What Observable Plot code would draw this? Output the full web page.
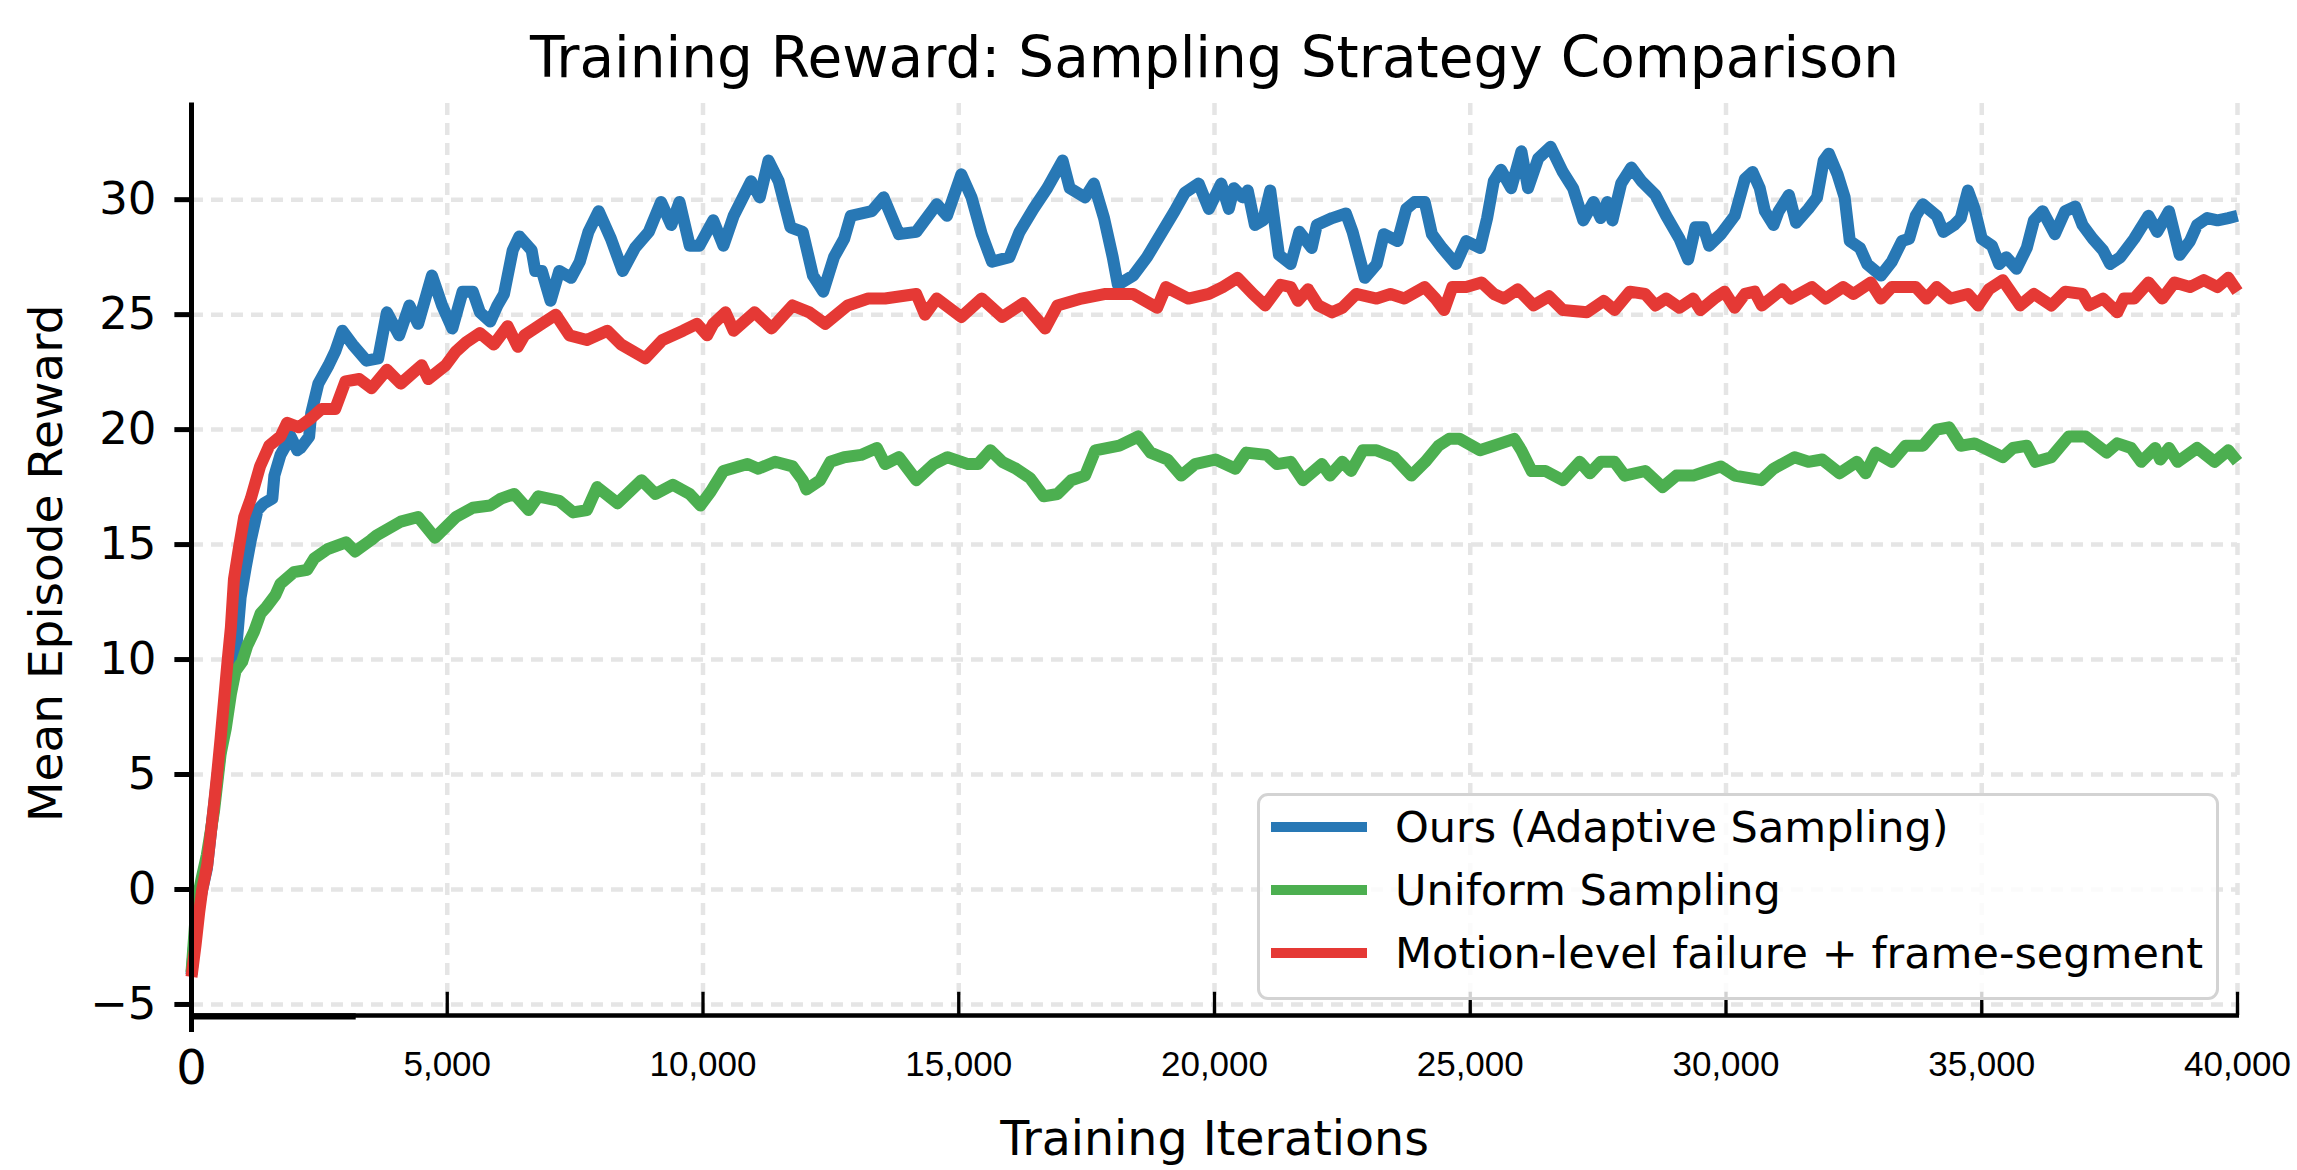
<!DOCTYPE html>
<html>
<head>
<meta charset="utf-8">
<script src="https://cdn.jsdelivr.net/npm/d3@7"></script>
<script src="https://cdn.jsdelivr.net/npm/@observablehq/plot@0.6"></script>
<style>
  html, body { margin: 0; padding: 0; background: #ffffff; }
  #chart { position: relative; width: 2297px; height: 1170px; overflow: hidden; background: #ffffff; }
  #chart svg { position: absolute; left: 0; top: 0; }
  .legend { position: absolute; left: 1257px; top: 793px; width: 956px; height: 201px;
            border: 3.5px solid #d3d3d3; border-radius: 11px; background: rgba(255,255,255,0.82);
            box-sizing: content-box; }
  .legend .row { position: absolute; left: 0; height: 50px; display: flex; align-items: center;
                 font-family: "DejaVu Sans", sans-serif; font-size: 43px; color: #000; white-space: nowrap; }
  .legend .sw { width: 96px; height: 9.5px; margin-left: 11px; margin-right: 28px; }
</style>
</head>
<body>
<div id="chart"></div>
<script>
// ---------------- data ----------------
const seriesNames = ["Ours (Adaptive Sampling)", "Uniform Sampling", "Motion-level failure + frame-segment"];
const seriesColors = ["#2878b5", "#4caf50", "#e53935"];

// [training iteration, mean episode reward]
const ours = [
  [0,-3.7],[100,-1.2],[200,-0.1],[300,0.9],[400,2.9],[500,4.8],[600,6.6],[700,8.4],[800,9.6],[860,10.1],
  [960,12.7],[1060,14.0],[1160,15.2],[1290,16.5],[1420,16.8],[1580,17.0],[1620,18.0],[1740,18.9],[1940,19.7],
  [2070,19.1],[2130,19.2],[2300,19.7],[2340,20.7],[2480,22.0],[2680,22.8],[2810,23.4],[2950,24.3],[3150,23.7],
  [3420,23.0],[3650,23.1],[3820,25.1],[4060,24.1],[4260,25.4],[4430,24.6],[4700,26.7],[4900,25.4],[5100,24.4],
  [5300,26.0],[5500,26.0],[5640,25.1],[5840,24.7],[5980,25.4],[6110,25.9],[6280,27.8],[6410,28.4],[6650,27.8],
  [6720,26.9],[6850,26.9],[7020,25.6],[7190,26.9],[7420,26.6],[7590,27.3],[7760,28.6],[7960,29.5],[8200,28.3],
  [8430,26.9],[8670,27.9],[8940,28.6],[9180,29.9],[9380,28.9],[9540,29.9],[9740,28.0],[9930,28.0],[10200,29.1],
  [10400,28.0],[10600,29.3],[10940,30.8],[11110,30.1],[11280,31.7],[11480,30.8],[11710,28.8],[11950,28.6],
  [12150,26.7],[12350,26.0],[12560,27.5],[12760,28.3],[12890,29.3],[13300,29.5],[13530,30.1],[13830,28.5],
  [14170,28.6],[14570,29.8],[14770,29.3],[15050,31.1],[15250,30.1],[15450,28.5],[15650,27.3],[15990,27.5],
  [16190,28.6],[16460,29.6],[16730,30.5],[17030,31.7],[17170,30.5],[17470,30.1],[17640,30.7],[17840,29.2],
  [18010,27.5],[18110,26.3],[18410,26.7],[18680,27.5],[18950,28.5],[19220,29.5],[19420,30.3],[19690,30.7],
  [19890,29.6],[20130,30.7],[20280,29.6],[20380,30.5],[20550,30.1],[20650,30.4],[20790,28.9],[20950,29.1],
  [21090,30.4],[21260,27.6],[21490,27.2],[21660,28.6],[21900,27.9],[22000,28.9],[22300,29.2],[22570,29.4],
  [22700,28.6],[22940,26.6],[23170,27.2],[23310,28.5],[23580,28.2],[23750,29.6],[23910,29.9],[24110,29.9],
  [24250,28.5],[24450,27.9],[24720,27.2],[24920,28.2],[25190,27.9],[25330,29.2],[25460,30.8],[25600,31.3],
  [25800,30.5],[26000,32.1],[26130,30.5],[26330,31.8],[26570,32.3],[26810,31.2],[27010,30.5],[27210,29.1],
  [27410,29.9],[27550,29.2],[27680,29.9],[27780,29.1],[27950,30.7],[28150,31.4],[28350,30.8],[28620,30.2],
  [28830,29.3],[29090,28.3],[29260,27.4],[29400,28.8],[29560,28.8],[29670,28.0],[29900,28.5],[30170,29.3],
  [30370,30.9],[30520,31.2],[30660,30.5],[30760,29.5],[30930,28.9],[31030,29.5],[31230,30.2],[31370,29.0],
  [31610,29.6],[31780,30.1],[31910,31.7],[32010,32.0],[32180,31.1],[32320,30.1],[32420,28.2],[32620,27.9],
  [32760,27.2],[33030,26.7],[33240,27.3],[33440,28.2],[33580,28.3],[33710,29.3],[33850,29.8],[34120,29.3],
  [34250,28.6],[34460,28.9],[34590,29.2],[34730,30.4],[34860,29.6],[35000,28.3],[35200,28.0],[35340,27.2],
  [35480,27.5],[35680,27.0],[35880,27.9],[36020,29.1],[36190,29.5],[36430,28.5],[36630,29.5],[36830,29.7],
  [36970,28.9],[37170,28.3],[37370,27.8],[37510,27.2],[37710,27.5],[37980,28.3],[38260,29.3],[38430,28.6],
  [38660,29.5],[38870,27.6],[39070,28.2],[39210,28.9],[39410,29.2],[39610,29.1],[39820,29.2],[40000,29.3]
];

const uniform = [
  [0,-3.6],[100,-0.6],[200,0.5],[300,1.5],[440,3.4],[570,5.9],[670,7.0],[770,8.5],[860,9.5],[990,9.9],
  [1090,10.6],[1220,11.2],[1350,12.0],[1470,12.3],[1640,12.8],[1740,13.3],[2000,13.8],[2260,13.9],[2400,14.4],
  [2660,14.8],[3020,15.1],[3200,14.7],[3510,15.2],[3620,15.4],[4090,16.0],[4430,16.2],[4760,15.3],[5170,16.2],
  [5500,16.6],[5840,16.7],[6050,17.0],[6310,17.2],[6590,16.5],[6780,17.1],[7190,16.9],[7460,16.4],[7730,16.5],
  [7930,17.5],[8330,16.8],[8800,17.8],[9070,17.2],[9410,17.6],[9740,17.2],[9950,16.7],[10150,17.3],[10400,18.2],
  [10870,18.5],[11080,18.3],[11410,18.6],[11750,18.4],[11950,17.8],[12020,17.4],[12290,17.8],[12490,18.6],
  [12760,18.8],[13090,18.9],[13400,19.2],[13560,18.5],[13830,18.8],[14170,17.8],[14510,18.5],[14780,18.8],
  [15180,18.5],[15380,18.5],[15620,19.1],[15850,18.6],[16120,18.3],[16390,17.9],[16660,17.1],[16930,17.2],
  [17200,17.8],[17470,18.0],[17670,19.1],[18140,19.3],[18510,19.7],[18750,19.0],[19080,18.7],[19350,18.0],
  [19620,18.5],[20020,18.7],[20410,18.3],[20620,19.0],[21020,18.9],[21220,18.5],[21490,18.6],[21730,17.8],
  [22100,18.5],[22260,18.0],[22500,18.6],[22670,18.2],[22900,19.1],[23170,19.1],[23510,18.8],[23850,18.0],
  [24120,18.6],[24380,19.3],[24590,19.6],[24790,19.6],[25190,19.1],[25460,19.3],[25860,19.6],[26000,19.1],
  [26200,18.2],[26470,18.2],[26810,17.8],[27140,18.6],[27340,18.1],[27550,18.6],[27820,18.6],[28020,18.0],
  [28420,18.2],[28760,17.5],[29030,18.0],[29360,18.0],[29630,18.2],[29900,18.4],[30170,18.0],[30690,17.8],
  [30930,18.3],[31340,18.8],[31610,18.6],[31880,18.7],[32220,18.1],[32560,18.6],[32730,18.1],[32930,19.0],
  [33240,18.6],[33510,19.3],[33850,19.3],[34120,20.0],[34360,20.1],[34590,19.3],[34860,19.4],[35140,19.1],
  [35410,18.8],[35610,19.2],[35880,19.3],[36050,18.6],[36360,18.8],[36700,19.7],[37030,19.7],[37440,19.0],
  [37650,19.4],[37920,19.2],[38120,18.6],[38390,19.2],[38490,18.7],[38660,19.2],[38830,18.6],[39210,19.2],
  [39550,18.6],[39820,19.1],[40000,18.6]
];

const motion = [
  [0,-3.8],[80,-2.4],[150,-1.0],[210,0.0],[310,1.1],[375,2.4],[440,3.7],[505,5.1],[570,6.6],[635,8.2],
  [700,9.8],[770,11.4],[830,13.5],[930,14.9],[1030,16.2],[1160,17.0],[1340,18.4],[1520,19.3],[1740,19.7],
  [1870,20.3],[2100,20.1],[2340,20.5],[2540,20.9],[2810,20.9],[3010,22.1],[3280,22.2],[3520,21.8],[3820,22.6],
  [4090,22.0],[4500,22.8],[4630,22.2],[4970,22.8],[5170,23.4],[5370,23.8],[5640,24.2],[5910,23.7],[6180,24.5],
  [6380,23.6],[6510,24.1],[6850,24.6],[7120,25.0],[7390,24.1],[7730,23.9],[8130,24.3],[8400,23.7],[8870,23.1],
  [9210,23.9],[9610,24.3],[9880,24.6],[10080,24.1],[10200,24.6],[10440,25.1],[10600,24.3],[11010,25.1],
  [11340,24.4],[11750,25.4],[12080,25.1],[12390,24.6],[12830,25.4],[13230,25.7],[13560,25.7],[14170,25.9],
  [14340,25.0],[14570,25.7],[15050,24.9],[15450,25.7],[15850,24.9],[16260,25.5],[16690,24.4],[16930,25.4],
  [17400,25.7],[17870,25.9],[18410,25.9],[18880,25.3],[19050,26.2],[19490,25.7],[19890,25.9],[20160,26.2],
  [20450,26.6],[20750,25.9],[20990,25.4],[21290,26.3],[21490,26.2],[21630,25.6],[21830,26.1],[22030,25.4],
  [22300,25.1],[22500,25.3],[22770,25.9],[23170,25.7],[23440,25.9],[23710,25.7],[24110,26.2],[24320,25.7],
  [24490,25.2],[24650,26.2],[24920,26.2],[25220,26.4],[25460,25.9],[25660,25.7],[25930,26.1],[26240,25.4],
  [26540,25.8],[26810,25.2],[27280,25.1],[27610,25.6],[27820,25.2],[28120,26.0],[28420,25.9],[28620,25.4],
  [28830,25.7],[29090,25.3],[29360,25.7],[29500,25.2],[29770,25.7],[29970,26.0],[30170,25.3],[30370,25.9],
  [30560,26.0],[30700,25.4],[31100,26.1],[31270,25.7],[31680,26.2],[31950,25.7],[32290,26.2],[32490,25.9],
  [32830,26.4],[33030,25.7],[33240,26.2],[33710,26.2],[33920,25.7],[34120,26.2],[34390,25.7],[34730,25.9],
  [34930,25.4],[35140,26.1],[35410,26.5],[35750,25.4],[36020,25.9],[36360,25.4],[36630,26.0],[36970,25.9],
  [37100,25.4],[37370,25.7],[37650,25.1],[37780,25.7],[37980,25.7],[38260,26.4],[38530,25.7],[38770,26.4],
  [39070,26.2],[39340,26.5],[39610,26.2],[39820,26.6],[40000,26.0]
];

const xTicks = [5000, 10000, 15000, 20000, 25000, 30000, 35000, 40000];
const xTickLabels = ["5,000", "10,000", "15,000", "20,000", "25,000", "30,000", "35,000", "40,000"];
const xZeroLabel = "0";
const yTicks = [-5, 0, 5, 10, 15, 20, 25, 30];
const yTickLabels = ["\u22125", "0", "5", "10", "15", "20", "25", "30"];

const titleText = "Training Reward: Sampling Strategy Comparison";
const xLabelText = "Training Iterations";
const yLabelText = "Mean Episode Reward";

// ---------------- chart ----------------
const xDomain = [0, 40000];
const yDomain = [-5.48, 34.2];
const yBottom = yDomain[0];

const rows = (arr, name) => arr.map(([x, y]) => ({x, y, series: name}));
const allSeries = [ours, uniform, motion];
const gridStyle = {stroke: "#e5e5e5", strokeWidth: 4.5, strokeDasharray: "12,8"};

const lineMarks = allSeries.map((arr, i) =>
  Plot.line(rows(arr, seriesNames[i]), {
    x: "x", y: "y", stroke: seriesColors[i], strokeWidth: 12,
    strokeLinejoin: "round", strokeLinecap: "butt"
  })
);

const chart = Plot.plot({
  width: 2297,
  height: 1170,
  marginTop: 102.6,
  marginBottom: 155,
  marginLeft: 191,
  marginRight: 60,
  x: {domain: xDomain, axis: null},
  y: {domain: yDomain, axis: null},
  style: {fontFamily: "DejaVu Sans", background: "transparent", overflow: "visible"},
  marks: [
    // grid
    Plot.ruleY(yTicks, {y: d => d, ...gridStyle}),
    Plot.ruleX(xTicks, {x: d => d, y1: yBottom, y2: yDomain[1], ...gridStyle}),
    // series (red drawn last, on top)
    ...lineMarks,
    // spines
    Plot.ruleX([0], {x: d => d, y1: -6.22, y2: yDomain[1], stroke: "#000", strokeWidth: 5}),
    Plot.ruleY([yBottom], {y: d => d, x1: 0, x2: 40040, stroke: "#000", strokeWidth: 4.7}),
    Plot.ruleY([yBottom], {y: d => d, x1: 0, x2: 3220, stroke: "#000", strokeWidth: 6.4, dy: 0.9}),
    // y ticks (outward) and labels
    Plot.ruleY(yTicks, {y: d => d, x1: -325, x2: 0, stroke: "#000", strokeWidth: 5}),
    Plot.text(yTicks, {y: d => d, frameAnchor: "left", dx: -35, textAnchor: "end", lineAnchor: "middle",
      text: (d, i) => yTickLabels[i], fontSize: 45, fontFamily: "DejaVu Sans", fill: "#000"}),
    // x ticks (inward) and labels
    Plot.ruleX(xTicks, {x: d => d, y1: yBottom, y2: yBottom + 1.01, stroke: "#000", strokeWidth: 3.3}),
    Plot.text(xTicks, {x: d => d, frameAnchor: "bottom", dy: 49, lineAnchor: "middle",
      text: (d, i) => xTickLabels[i], fontSize: 35, fontFamily: "Liberation Sans", fill: "#000"}),
    Plot.text([0], {x: d => d, frameAnchor: "bottom", dy: 53, lineAnchor: "middle",
      text: () => xZeroLabel, fontSize: 48, fontFamily: "DejaVu Sans", fill: "#000"}),
    // titles
    Plot.text([titleText], {frameAnchor: "top", dy: -26.1, lineAnchor: "bottom", text: d => d,
      fontSize: 56.5, fontFamily: "DejaVu Sans", fill: "#000"}),
    Plot.text([xLabelText], {frameAnchor: "bottom", dy: 139, lineAnchor: "bottom", text: d => d,
      fontSize: 47.5, fontFamily: "DejaVu Sans", fill: "#000"}),
    Plot.text([yLabelText], {frameAnchor: "left", dx: -130, dy: 4, rotate: -90, lineAnchor: "bottom",
      textAnchor: "middle", text: d => d, fontSize: 47, fontFamily: "DejaVu Sans", fill: "#000"})
  ]
});

const root = document.getElementById("chart");
root.appendChild(chart);

// legend (HTML overlay inside the axes at lower right)
const legend = document.createElement("div");
legend.className = "legend";
const rowCenters = [827.7, 890.7, 953.7];
seriesNames.forEach((name, i) => {
  const row = document.createElement("div");
  row.className = "row";
  row.style.top = (rowCenters[i] - 793 - 3.5 - 25) + "px";
  const sw = document.createElement("div");
  sw.className = "sw";
  sw.style.background = seriesColors[i];
  const label = document.createElement("span");
  label.textContent = name;
  row.appendChild(sw);
  row.appendChild(label);
  legend.appendChild(row);
});
root.appendChild(legend);
</script>
</body>
</html>
